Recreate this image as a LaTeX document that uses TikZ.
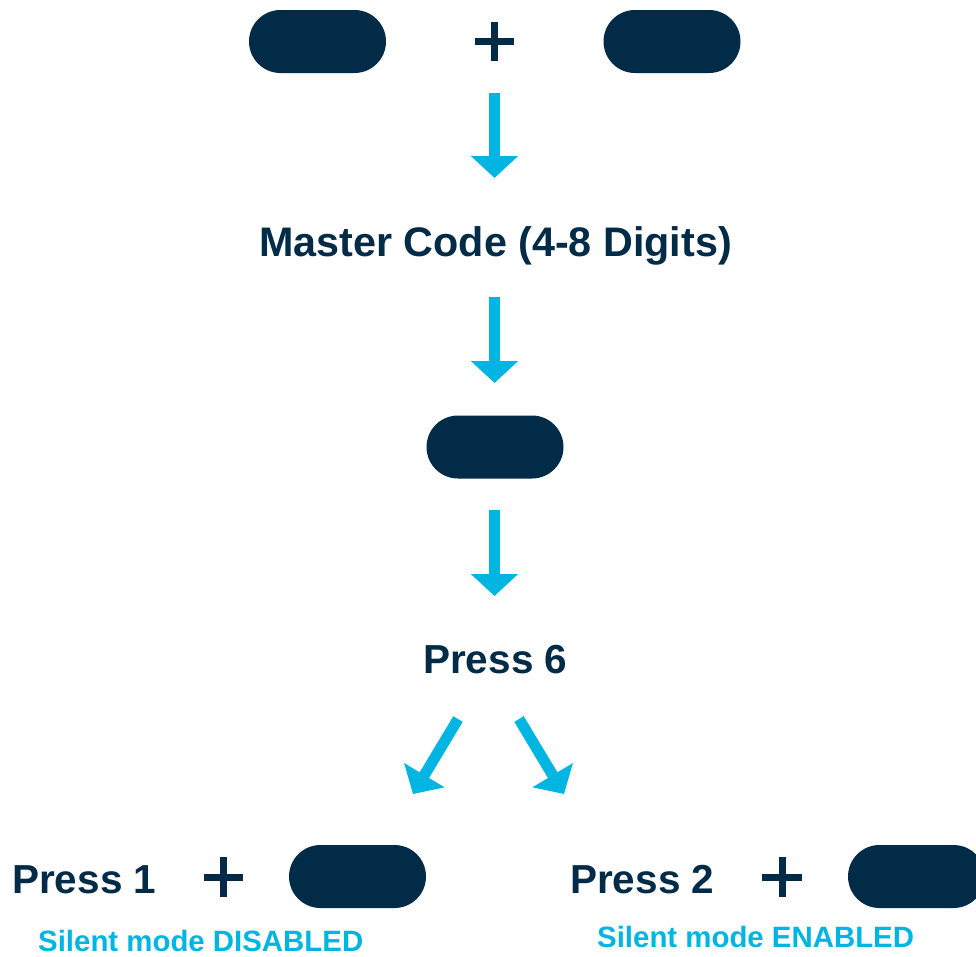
\documentclass[tikz,border=0pt]{standalone}
\usepackage{fontspec}
\setmainfont{Liberation Sans}
\usetikzlibrary{arrows.meta}
\definecolor{navy}{HTML}{022B47}
\definecolor{cyanb}{HTML}{00B5E2}
\begin{document}
\begin{tikzpicture}[x=1pt,y=-1pt,
  pill/.style={draw=none,fill=navy,rounded corners=31.5pt,minimum width=137pt,minimum height=63pt,inner sep=0pt},
  title/.style={anchor=base west,inner sep=0pt,text=navy,font=\fontsize{40.5}{44}\selectfont\bfseries},
  note/.style={anchor=base west,inner sep=0pt,text=cyanb,font=\fontsize{29.4}{32}\selectfont\bfseries},
  plusbar/.style={navy,line width=7pt},
  flow/.style={cyanb,line width=11pt,-{Triangle[length=22pt,width=46pt]}}]
\useasboundingbox (0,0) rectangle (976,956);
\clip (0,0) rectangle (976,956);
% top row
\node[pill] (p1) at (317.5,41.5) {};
\node[pill] (p2) at (672,41.5) {};
\node[inner sep=0pt,minimum size=39pt] (plus0) at (494.5,41.5) {};
\draw[plusbar] (plus0.west) -- (plus0.east);
\draw[plusbar] (plus0.north) -- (plus0.south);
% arrow 1
\coordinate (a1s) at (494.5,93);
\coordinate (a1e) at (494.5,178);
\draw[flow] (a1s) -- (a1e);
\node[title,font=\fontsize{41.3}{44}\selectfont\bfseries] (master) at (259,256) {Master Code (4-8 Digits)};
% arrow 2
\coordinate (a2s) at (494.5,297);
\coordinate (a2e) at (494.5,383);
\draw[flow] (a2s) -- (a2e);
\node[pill] (p3) at (495,447) {};
% arrow 3
\coordinate (a3s) at (494.5,510);
\coordinate (a3e) at (494.5,596);
\draw[flow] (a3s) -- (a3e);
\node[title] (press6) at (423,673) {Press 6};
% diagonal arrows
\coordinate (dls) at (458,719);
\coordinate (dle) at (413,794);
\draw[flow] (dls) -- (dle);
\coordinate (drs) at (519,719);
\coordinate (dre) at (564,794);
\draw[flow] (drs) -- (dre);
% bottom left
\node[title] (press1) at (12,893) {Press 1};
\node[inner sep=0pt,minimum size=39pt] (plus1) at (223.5,877) {};
\draw[plusbar] (plus1.west) -- (plus1.east);
\draw[plusbar] (plus1.north) -- (plus1.south);
\node[pill] (p4) at (357.5,876.5) {};
\node[note] (dis) at (38,951) {Silent mode DISABLED};
% bottom right
\node[title] (press2) at (570,893) {Press 2};
\node[inner sep=0pt,minimum size=39pt] (plus2) at (782,877) {};
\draw[plusbar] (plus2.west) -- (plus2.east);
\draw[plusbar] (plus2.north) -- (plus2.south);
\node[pill] (p5) at (916.5,876.5) {};
\node[note] (en) at (597,947) {Silent mode ENABLED};
\end{tikzpicture}
\end{document}
